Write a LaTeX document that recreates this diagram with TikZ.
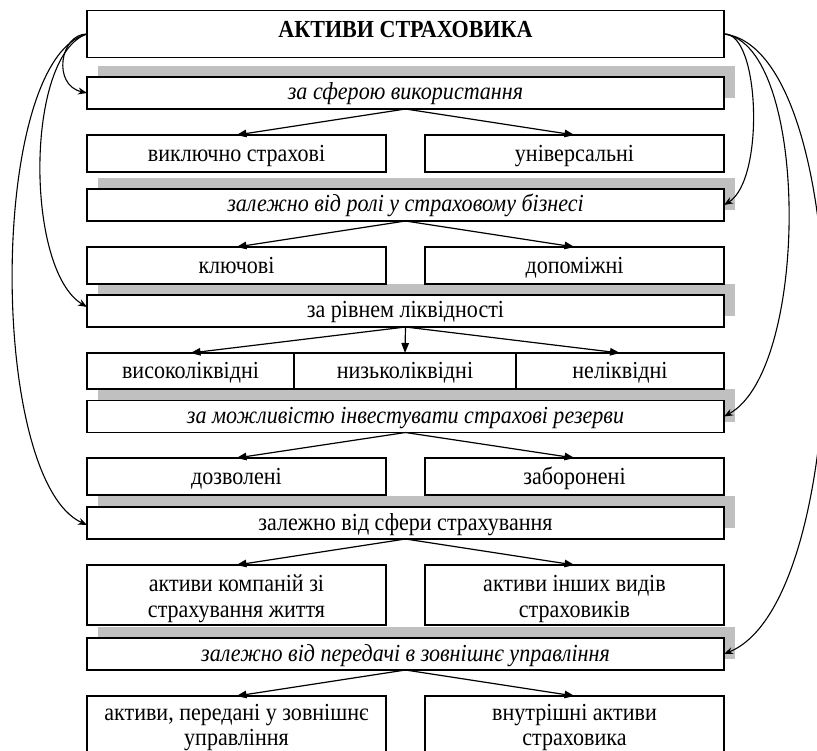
\documentclass[tikz,border=0pt]{standalone}
\usepackage{fontspec}
\setmainfont{Liberation Serif}[FakeStretch=0.9]
\usetikzlibrary{arrows.meta,shadows}
\definecolor{shadowgray}{RGB}{192,192,192}
\newcommand{\twolines}[2]{\begin{tabular}[b]{@{}c@{}}#1\\#2\end{tabular}}
\begin{document}
\begin{tikzpicture}[x=1pt,y=-1pt,
  box/.style={draw, line width=1.3pt, inner sep=0pt, outer sep=0pt, fill=white,
    font=\fontsize{24.5}{25.5}\selectfont},
  cat/.style={box, minimum width=637pt, minimum height=32pt, text height=14pt, text depth=0pt,
    general shadow={fill=shadowgray, shadow xshift=11pt, shadow yshift=11pt}},
  catit/.style={cat, font=\fontsize{24.5}{25.5}\selectfont\itshape},
  half/.style={box, minimum width=299pt, minimum height=37pt, text height=16pt, text depth=0pt},
  tall/.style={box, minimum width=299pt, minimum height=60pt, text height=44pt, text depth=0pt},
  arr/.style={-{Triangle[length=10pt,width=7.5pt]}, line width=1.2pt},
  curve/.style={-{Stealth[length=9pt,width=7pt]}, line width=1.1pt}
]
\useasboundingbox (0,0) rectangle (817,751);
\fill[white] (0,0) rectangle (817,751);

% category boxes (drawn first so their shadows sit behind the boxes above)
\node[catit] (c1) at (405.5,93) {за сферою використання};
\node[catit] (c2) at (405.5,205) {залежно від ролі у страховому бізнесі};
\node[cat]   (c3) at (405.5,311) {за рівнем ліквідності};
\node[catit] (c4) at (405.5,416.5) {за можливістю інвестувати страхові резерви};
\node[cat]   (c5) at (405.5,523) {залежно від сфери страхування};
\node[catit] (c6) at (405.5,654) {залежно від передачі в зовнішнє управління};

% title
\node[box, minimum width=637pt, minimum height=47pt, text height=8pt, text depth=0pt,
  font=\fontsize{24.5}{25.5}\selectfont\bfseries] (t) at (405.5,34) {АКТИВИ СТРАХОВИКА};

% sub boxes
\node[half] (p1a) at (236.5,153.5) {виключно страхові};
\node[half] (p1b) at (574.5,153.5) {універсальні};
\node[half] (p2a) at (236.5,265.5) {ключові};
\node[half] (p2b) at (574.5,265.5) {допоміжні};
\node[half, minimum width=207pt, minimum height=36pt] (q1) at (190.5,371) {високоліквідні};
\node[half, minimum width=222pt, minimum height=36pt] (q2) at (405,371) {низьколіквідні};
\node[half, minimum width=208pt, minimum height=36pt] (q3) at (620,371) {неліквідні};
\node[half] (p4a) at (236.5,476.5) {дозволені};
\node[half] (p4b) at (574.5,476.5) {заборонені};
\node[tall] (p5a) at (236.5,595) {\twolines{активи компаній зі}{страхування життя}};
\node[tall] (p5b) at (574.5,595) {\twolines{активи інших видів}{страховиків}};
\node[tall, text height=39pt] (p6a) at (236.5,726) {\twolines{активи, передані у зовнішнє}{управління}};
\node[tall, text height=39pt] (p6b) at (574.5,726) {\twolines{внутрішні активи}{страховика}};

% straight arrows
\draw[arr] (c1.south) -- (p1a.north);
\draw[arr] (c1.south) -- (p1b.north);
\draw[arr] (c2.south) -- (p2a.north);
\draw[arr] (c2.south) -- (p2b.north);
\draw[arr] (c3.south) -- (q1.north);
\draw[arr] (c3.south) -- (q2.north);
\draw[arr] (c3.south) -- (q3.north);
\draw[arr] (c4.south) -- (p4a.north);
\draw[arr] (c4.south) -- (p4b.north);
\draw[arr] (c5.south) -- (p5a.north);
\draw[arr] (c5.south) -- (p5b.north);
\draw[arr] (c6.south) -- (p6a.north);
\draw[arr] (c6.south) -- (p6b.north);

% curved arrows, left
\draw[curve] (t.west) .. controls (60,34) and (52,85) .. (c1.west);
\draw[curve] (t.west) .. controls (25,55) and (25,270) .. ([yshift=4pt]c3.west);
\draw[curve] (t.west) .. controls (-12,60) and (-12,480) .. ([yshift=-2pt]c5.west);
% curved arrows, right
\draw[curve] (t.east) .. controls (760,32) and (765,180) .. (c2.east);
\draw[curve] (t.east) .. controls (810,45) and (810,370) .. (c4.east);
\draw[curve] (t.east) .. controls (858,50) and (858,600) .. (c6.east);
\end{tikzpicture}
\end{document}
